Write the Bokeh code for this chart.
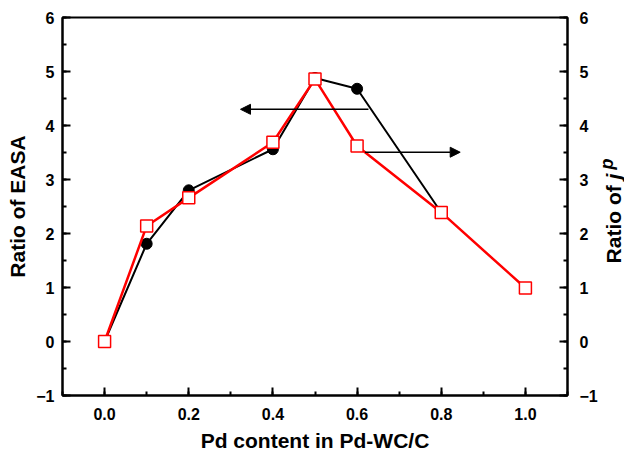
from bokeh.plotting import figure
from bokeh.models import (Range1d, LinearAxis, SingleIntervalTicker, PrintfTickFormatter,
                          Arrow, NormalHead, Div)
from bokeh.layouts import row
from bokeh.embed import file_html
from bokeh.resources import INLINE

# ---- data ----
pd_easa = [0.0, 0.1, 0.2, 0.4, 0.5, 0.6, 0.8]
ratio_easa = [0.0, 1.81, 2.80, 3.56, 4.88, 4.68, 2.39]

pd_jp = [0.0, 0.1, 0.2, 0.4, 0.5, 0.6, 0.8, 1.0]
ratio_jp = [0.0, 2.14, 2.66, 3.69, 4.86, 3.62, 2.39, 0.99]

x_label = "Pd content in Pd-WC/C"
y_label = "Ratio of EASA"

FONT = "Liberation Sans"

p = figure(width=600, height=454, x_range=Range1d(-0.1, 1.1), y_range=Range1d(-1, 6),
           output_backend="svg", toolbar_location=None,
           min_border_left=62, min_border_right=30, min_border_top=17, min_border_bottom=59)
p.extra_y_ranges = {"right": Range1d(-1, 6)}
p.xgrid.visible = False
p.ygrid.visible = False
p.outline_line_color = "black"
p.outline_line_width = 2
p.background_fill_color = "white"
p.border_fill_color = "white"

def style_axis(ax, standoff):
    ax.axis_line_width = 2
    ax.axis_line_color = "black"
    ax.major_tick_in = 8
    ax.major_tick_out = 0
    ax.minor_tick_in = 4
    ax.minor_tick_out = 0
    ax.major_tick_line_width = 2
    ax.minor_tick_line_width = 2
    ax.major_label_text_font = FONT
    ax.major_label_text_font_style = "bold"
    ax.major_label_text_font_size = "16px"
    ax.major_label_text_color = "black"
    ax.major_label_standoff = standoff
    ax.axis_label_text_font = FONT
    ax.axis_label_text_font_style = "bold"
    ax.axis_label_text_font_size = "21px"
    ax.axis_label_text_color = "black"

xax = p.xaxis[0]
xax.ticker = SingleIntervalTicker(interval=0.2, num_minor_ticks=2)
xax.formatter = PrintfTickFormatter(format="%.1f")
style_axis(xax, 12)
xax.axis_label = x_label
xax.axis_label_standoff = 6

yax = p.yaxis[0]
yax.ticker = SingleIntervalTicker(interval=1, num_minor_ticks=2)
style_axis(yax, 8)
yax.axis_label = y_label
yax.axis_label_standoff = 4

yax2 = LinearAxis(y_range_name="right", ticker=SingleIntervalTicker(interval=1, num_minor_ticks=2))
style_axis(yax2, 12)
p.add_layout(yax2, "right")

# ---- series ----
p.line(pd_easa, ratio_easa, line_color="black", line_width=2)
p.scatter(pd_easa, ratio_easa, marker="circle", size=11, fill_color="black", line_color="black")
p.line(pd_jp, ratio_jp, line_color="#ff0000", line_width=2.5)
p.scatter(pd_jp, ratio_jp, marker="square", size=12, fill_color="white",
          line_color="#ff0000", line_width=1.5)

# ---- arrows ----
p.add_layout(Arrow(x_start=0.627, y_start=4.30, x_end=0.323, y_end=4.30,
                   line_color="black", line_width=1.5,
                   end=NormalHead(size=10, fill_color="black", line_color="black")))
p.add_layout(Arrow(x_start=0.619, y_start=3.505, x_end=0.845, y_end=3.505,
                   line_color="black", line_width=1.5,
                   end=NormalHead(size=10, fill_color="black", line_color="black")))

# ---- right axis label (italic j, superscript p) ----
label_html = (
    '<span style="position:absolute; left:8px; top:206px; '
    'transform:translate(-50%,-50%) rotate(-90deg); white-space:nowrap; '
    "font-family:'Liberation Sans', Arial, sans-serif; font-weight:bold; font-size:21px; "
    'line-height:23px; color:#000;">Ratio of <i>j</i>'
    '<sup style="font-size:18px; line-height:0; margin-left:4px;"><i>p</i></sup></span>'
)
div = Div(text=label_html, width=24, height=454,
          styles={"position": "relative", "overflow": "visible", "background": "white"})

layout = row(p, div)

open("out.html", "w").write(file_html(layout, INLINE))
